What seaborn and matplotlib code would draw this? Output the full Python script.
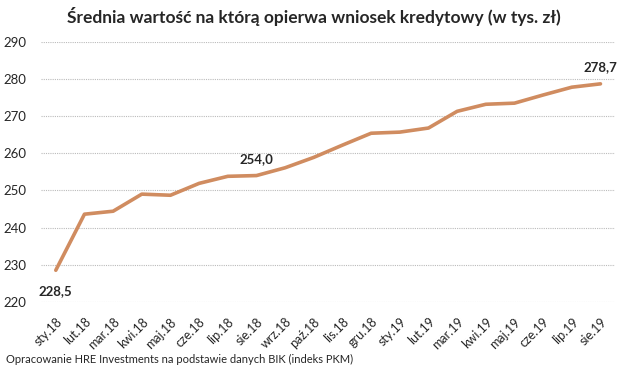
import pandas as pd
import matplotlib.pyplot as plt
import seaborn as sns

# dane
months = ['sty.18', 'lut.18', 'mar.18', 'kwi.18', 'maj.18', 'cze.18', 'lip.18',
          'sie.18', 'wrz.18', 'paź.18', 'lis.18', 'gru.18', 'sty.19', 'lut.19',
          'mar.19', 'kwi.19', 'maj.19', 'cze.19', 'lip.19', 'sie.19']
values = [228.5, 243.6, 244.4, 249.0, 248.7, 251.9, 253.8, 254.0, 256.1, 258.9,
          262.2, 265.4, 265.7, 266.8, 271.3, 273.2, 273.5, 275.7, 277.8, 278.7]
labelled = {0: '228,5', 7: '254,0', 19: '278,7'}

df = pd.DataFrame({'miesiac': months, 'wartosc': values})
df['x'] = range(len(df))

sns.set_theme(style='white')
plt.rcParams['font.family'] = ['Lato', 'DejaVu Sans']

fig = plt.figure(figsize=(6.28, 3.74), dpi=100)
ax = fig.add_axes([0.066, 0.193, 0.913, 0.695])

sns.lineplot(data=df, x='x', y='wartosc', color='#D08C60', linewidth=2.6, ax=ax)

ax.set_xlim(-0.5, len(months) - 0.5)
ax.set_ylim(220, 290)
ax.set_yticks(range(220, 291, 10))
ax.set_xticks(df['x'])
ax.set_xticklabels(months, rotation=45, ha='right', rotation_mode='anchor', fontsize=9)
ax.tick_params(axis='y', labelsize=9.5, pad=5)
ax.tick_params(axis='x', pad=4)
ax.set_xlabel('')
ax.set_ylabel('')

ax.yaxis.grid(True, color='#BBBBBB', linestyle=(0, (1, 1)), linewidth=0.8)
ax.xaxis.grid(False)
sns.despine(ax=ax, left=True, bottom=True)

# etykiety wartosci
for i, txt in labelled.items():
    dy = -15 if i == 0 else 12
    ax.annotate(txt, (i, values[i]), xytext=(0, dy), textcoords='offset points',
                ha='center', va='center', fontsize=9.5, fontweight='bold')

fig.text(0.5, 0.955, 'Średnia wartość na którą opierwa wniosek kredytowy (w tys. zł)',
         ha='center', va='center', fontsize=12.5, fontweight='bold')
fig.text(0.01, 0.04, 'Opracowanie HRE Investments na podstawie danych BIK (indeks PKM)',
         ha='left', va='center', fontsize=8)

fig.savefig('out.png', dpi=100)
